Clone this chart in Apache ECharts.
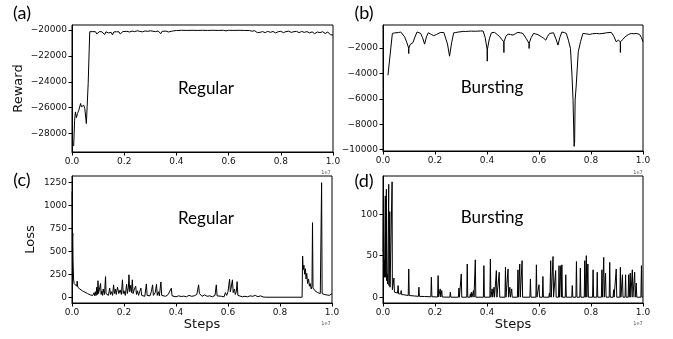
<!DOCTYPE html>
<html><head><meta charset="utf-8">
<script src="https://cdn.jsdelivr.net/npm/echarts@6/dist/echarts.min.js"></script>
<style>html,body{margin:0;padding:0;background:#fff}#c{width:673px;height:339px}</style>
</head><body><div id="c"></div>
<script>
// x values are in units of 1e7 steps
const xTicks = [0, 0.2, 0.4, 0.6, 0.8, 1.0];
const rewardRegularTicks = [-28000, -26000, -24000, -22000, -20000];
const rewardBurstingTicks = [-10000, -8000, -6000, -4000, -2000];
const lossRegularTicks = [0, 250, 500, 750, 1000, 1250];
const lossBurstingTicks = [0, 50, 100];
const panelLabels = ['(a)', '(b)', '(c)', '(d)'];
const panelTitles = ['Regular', 'Bursting', 'Regular', 'Bursting'];

const rewardRegular = [
[0.0064,-28970],[0.010,-26980],[0.013,-26330],[0.017,-26770],[0.021,-26460],[0.026,-26200],[0.029,-26070],
[0.033,-25680],[0.036,-25940],[0.040,-26070],[0.045,-25810],[0.049,-26070],[0.053,-26200],[0.055,-27230],
[0.058,-25940],[0.062,-24130],[0.068,-20130],
[0.07,-20100],[0.075,-20150],[0.08,-20120],[0.085,-20200],[0.09,-20130],[0.095,-20300],[0.10,-20150],
[0.105,-20120],[0.11,-20250],[0.115,-20140],[0.12,-20180],[0.125,-20350],[0.13,-20140],[0.135,-20160],
[0.14,-20220],[0.145,-20120],[0.15,-20180],[0.155,-20380],[0.16,-20150],[0.165,-20200],[0.17,-20130],
[0.175,-20250],[0.18,-20140],[0.185,-20300],[0.19,-20160],[0.195,-20120],[0.2,-20250],[0.21,-20100],
[0.22,-20150],[0.23,-20080],[0.24,-20120],[0.25,-20060],[0.26,-20100],[0.27,-20140],[0.28,-20070],
[0.29,-20100],[0.3,-20060],[0.31,-20090],[0.32,-20120],[0.33,-20070],[0.34,-20280],[0.345,-20100],
[0.35,-20130],[0.36,-20080],[0.37,-20150],[0.38,-20100],[0.39,-20060],[0.395,-20140],[0.4,-20040],
[0.42,-20020],[0.44,-20030],[0.46,-20020],[0.48,-20030],[0.5,-20020],[0.52,-20030],[0.54,-20020],
[0.56,-20030],[0.58,-20020],[0.59,-20060],[0.6,-20020],[0.62,-20030],[0.64,-20020],[0.66,-20030],
[0.68,-20040],[0.69,-20090],[0.7,-20050],[0.705,-20150],[0.71,-20200],[0.715,-20330],[0.72,-20180],
[0.725,-20280],[0.73,-20120],[0.74,-20200],[0.75,-20100],[0.76,-20180],[0.77,-20110],[0.78,-20220],
[0.79,-20130],[0.8,-20100],[0.81,-20200],[0.82,-20120],[0.83,-20090],[0.84,-20180],[0.85,-20130],
[0.86,-20100],[0.87,-20200],[0.88,-20110],[0.89,-20180],[0.9,-20120],[0.91,-20220],[0.92,-20140],
[0.93,-20280],[0.94,-20150],[0.95,-20200],[0.96,-20130],[0.97,-20260],[0.98,-20160],[0.99,-20350],
[0.995,-20200],[1.0,-20400]
];

const rewardBursting = [
[0.019,-4160],[0.036,-870],[0.045,-830],[0.051,-820],[0.06,-800],[0.068,-760],[0.075,-880],[0.083,-1130],
[0.092,-1600],[0.099,-2050],[0.099,-2450],[0.099,-2050],[0.104,-1750],[0.109,-1660],[0.115,-1600],
[0.123,-1150],[0.131,-760],[0.138,-800],[0.145,-870],[0.152,-1200],[0.16,-1710],[0.167,-1150],[0.174,-820],
[0.18,-900],[0.186,-950],[0.19,-900],[0.195,-1050],[0.201,-1080],[0.206,-950],[0.212,-870],[0.22,-800],
[0.227,-740],[0.234,-800],[0.24,-870],[0.248,-1700],[0.256,-2660],[0.264,-1600],[0.272,-820],[0.28,-800],
[0.29,-760],[0.3,-740],[0.308,-710],[0.318,-720],[0.33,-700],[0.34,-690],[0.346,-680],[0.355,-700],
[0.365,-690],[0.375,-680],[0.385,-680],[0.393,-1200],[0.401,-2180],[0.401,-3050],[0.401,-2180],
[0.409,-1300],[0.417,-820],[0.423,-800],[0.429,-790],[0.439,-950],[0.449,-1130],[0.457,-1350],
[0.465,-1530],[0.465,-2370],[0.465,-1530],[0.473,-1100],[0.481,-920],[0.49,-960],[0.5,-1000],[0.51,-880],
[0.519,-790],[0.528,-820],[0.538,-870],[0.55,-1250],[0.562,-1660],[0.562,-2050],[0.562,-1660],
[0.57,-1200],[0.579,-870],[0.588,-920],[0.596,-970],[0.603,-1050],[0.609,-1130],[0.618,-1250],
[0.626,-1400],[0.633,-1100],[0.641,-870],[0.648,-840],[0.656,-820],[0.665,-1300],[0.673,-1790],
[0.68,-1200],[0.688,-760],[0.697,-800],[0.705,-870],[0.713,-1400],[0.721,-2050],[0.727,-4200],
[0.731,-6130],[0.735,-9740],[0.737,-9400],[0.739,-6100],[0.743,-5000],[0.751,-2320],[0.76,-1500],
[0.769,-870],[0.78,-900],[0.795,-950],[0.805,-900],[0.812,-940],[0.821,-870],[0.832,-900],[0.846,-870],
[0.86,-820],[0.878,-790],[0.888,-1100],[0.897,-1530],[0.905,-1400],[0.913,-1530],[0.913,-2370],
[0.913,-1530],[0.923,-1340],[0.93,-1150],[0.936,-1050],[0.945,-950],[0.955,-870],[0.965,-900],
[0.974,-870],[0.98,-920],[0.987,-950],[0.994,-1200],[1.0,-1530]
];

const lossRegular = [
[0.0005,1150],[0.001,900],[0.0015,500],[0.002,650],[0.003,700],[0.004,400],[0.006,200],[0.008,150],
[0.01,170],[0.012,130],[0.015,140],[0.018,120],[0.02,175],[0.022,110],[0.025,100],[0.03,90],[0.035,80],
[0.04,70],[0.045,65],[0.05,55],[0.055,45],[0.06,40],[0.065,30],[0.07,25],[0.075,40],[0.08,20],[0.085,50],
[0.088,15],[0.09,60],[0.093,20],[0.095,110],[0.098,30],[0.1,180],[0.102,40],[0.105,60],[0.108,20],
[0.11,150],[0.112,30],[0.115,70],[0.118,20],[0.12,90],[0.125,30],[0.129,225],[0.131,40],[0.135,60],
[0.14,20],[0.145,100],[0.148,30],[0.152,60],[0.156,20],[0.16,135],[0.163,40],[0.167,90],[0.17,30],
[0.175,110],[0.18,40],[0.185,80],[0.19,30],[0.194,190],[0.197,40],[0.2,70],[0.205,20],[0.21,140],
[0.213,40],[0.217,110],[0.219,245],[0.222,60],[0.226,130],[0.229,50],[0.232,190],[0.235,40],[0.24,90],
[0.245,120],[0.248,30],[0.252,70],[0.256,20],[0.26,60],[0.265,100],[0.268,20],[0.275,40],[0.28,10],
[0.286,145],[0.289,20],[0.295,40],[0.3,15],[0.305,60],[0.31,135],[0.313,20],[0.32,50],[0.325,140],
[0.328,20],[0.332,60],[0.336,15],[0.342,167],[0.345,20],[0.35,40],[0.36,10],[0.37,30],[0.375,10],
[0.382,98],[0.385,15],[0.39,10],[0.4,5],[0.41,15],[0.42,8],[0.43,12],[0.44,5],[0.45,20],[0.46,10],
[0.47,15],[0.48,30],[0.487,135],[0.49,40],[0.495,20],[0.5,10],[0.51,25],[0.52,10],[0.53,15],[0.54,5],
[0.55,20],[0.555,135],[0.558,15],[0.565,8],[0.575,10],[0.585,5],[0.59,50],[0.595,20],[0.6,60],
[0.606,196],[0.609,60],[0.612,100],[0.617,190],[0.62,50],[0.625,90],[0.628,30],[0.632,60],[0.635,170],
[0.638,20],[0.645,8],[0.655,5],[0.665,10],[0.675,5],[0.685,15],[0.69,30],[0.695,10],[0.705,20],
[0.715,5],[0.725,15],[0.735,3],[0.745,0],[0.885,0],[0.887,450],[0.889,300],[0.892,350],[0.895,250],
[0.898,310],[0.9,200],[0.903,260],[0.906,150],[0.91,200],[0.913,120],[0.916,150],[0.92,90],[0.923,120],
[0.925,814],[0.927,100],[0.93,80],[0.935,70],[0.94,60],[0.945,50],[0.95,45],[0.955,40],[0.958,35],
[0.96,1250],[0.962,40],[0.965,35],[0.97,30],[0.975,35],[0.98,25],[0.985,30],[0.99,20],[0.995,15],[1.0,40]
];

const lossBursting = [
[0.0005,55],[0.002,129],[0.003,28],[0.005,45],[0.006,24],[0.009,122],[0.010,24],[0.013,130],[0.014,20],
[0.016,28],[0.018,16],[0.022,136],[0.023,14],[0.026,103],[0.027,12],[0.030,11],[0.033,10],[0.035,139],
[0.036,9],[0.038,8],[0.042,23],[0.044,6],[0.050,5],[0.056,5],[0.058,14],[0.060,4],[0.068,4],[0.070,8],
[0.072,3],[0.080,3],[0.082,5],[0.084,2.5],[0.097,2],[0.099,34],[0.101,2],[0.120,1.5],[0.136,1],[0.138,12],
[0.140,1],[0.160,0.8],[0.184,0.5],[0.186,24],[0.188,0.5],[0.210,0.3],[0.212,26],[0.214,0.3],[0.218,0.3],
[0.220,10],[0.222,0.2],[0.224,0.2],[0.226,8],[0.228,0.2],[0.257,0],[0.259,6],[0.261,0],[0.290,0],
[0.292,11],[0.294,0],[0.299,0],[0.301,28],[0.303,0],[0.322,0],[0.324,40],[0.326,0],[0.334,0],[0.336,4],
[0.338,0],[0.340,6],[0.342,0],[0.346,0],[0.348,8],[0.350,0],[0.353,0],[0.355,45],[0.357,0],[0.386,0],
[0.388,38],[0.390,0],[0.411,0],[0.413,46],[0.415,0],[0.418,0],[0.420,10],[0.422,0],[0.425,0],[0.427,12],
[0.429,0],[0.434,0],[0.436,32],[0.438,0],[0.445,0],[0.447,30],[0.449,0],[0.469,0],[0.471,36],[0.473,0],
[0.479,0],[0.481,34],[0.483,0],[0.486,0],[0.488,12],[0.490,0],[0.493,0],[0.495,10],[0.497,0],[0.517,0],
[0.519,33],[0.521,0],[0.524,0],[0.526,40],[0.528,0],[0.533,0],[0.535,44],[0.537,0],[0.565,0],[0.567,22],
[0.569,0],[0.588,0],[0.590,39],[0.592,0],[0.598,0],[0.600,15],[0.602,0],[0.613,0],[0.615,25],[0.617,0],
[0.638,0],[0.640,5],[0.642,0],[0.643,0],[0.645,44],[0.647,0],[0.652,0],[0.654,49],[0.656,0],[0.662,0],
[0.664,32],[0.666,0],[0.675,0],[0.677,38],[0.679,0],[0.682,0],[0.684,38],[0.686,0],[0.688,39],[0.690,0],
[0.701,0],[0.703,27],[0.705,0],[0.726,0],[0.728,14],[0.730,0],[0.742,0],[0.744,43],[0.746,0],[0.757,0],
[0.759,35],[0.761,0],[0.774,0],[0.776,44],[0.778,0],[0.780,0],[0.782,50],[0.784,0],[0.786,0],[0.788,40],
[0.790,0],[0.806,0],[0.808,33],[0.810,0],[0.822,0],[0.824,30],[0.826,0],[0.840,0],[0.842,33],[0.844,0],
[0.847,0],[0.849,48],[0.851,0],[0.854,0],[0.856,29],[0.858,0],[0.870,0],[0.872,42],[0.874,0],[0.885,0],
[0.887,9],[0.889,0],[0.895,0],[0.897,34],[0.899,0],[0.911,0],[0.913,36],[0.915,0],[0.919,0],[0.921,27],
[0.923,0],[0.931,0],[0.933,27],[0.935,0],[0.943,0],[0.945,27],[0.947,0],[0.949,0],[0.951,29],[0.953,0],
[0.957,0],[0.959,33],[0.961,0],[0.966,0],[0.968,30],[0.970,0],[0.972,0],[0.974,17],[0.976,0],[0.992,0],
[0.994,38],[0.996,0],[1.0,0]
];

const TICK_FONT = 'DejaVu Sans';
const fmtNum = v => (v < 0 ? '\u2212' + Math.abs(v) : String(v));

function xAxis(gi, name) {
  return {
    type: 'value', gridIndex: gi, min: 0, max: 1,
    axisLine: { show: true, onZero: false, lineStyle: { color: '#000', width: 1 } },
    axisTick: { show: true, inside: false, length: 3.5, customValues: xTicks, lineStyle: { color: '#000', width: 1 } },
    axisLabel: { customValues: xTicks, formatter: v => v.toFixed(1), fontFamily: TICK_FONT, fontSize: 9, color: '#111', margin: 5 },
    splitLine: { show: false },
    name: name || '', nameLocation: 'middle', nameGap: 15,
    nameTextStyle: { fontFamily: TICK_FONT, fontSize: 13, color: '#111' }
  };
}
function yAxis(gi, min, max, ticks, name, gap) {
  return {
    type: 'value', gridIndex: gi, min, max,
    axisLine: { show: true, onZero: false, lineStyle: { color: '#000', width: 1 } },
    axisTick: { show: true, inside: false, length: 3.5, customValues: ticks, lineStyle: { color: '#000', width: 1 } },
    axisLabel: { customValues: ticks, formatter: fmtNum, fontFamily: TICK_FONT, fontSize: 9, color: '#111', margin: 5 },
    splitLine: { show: false },
    name: name || '', nameLocation: 'middle', nameGap: gap || 40,
    nameTextStyle: { fontFamily: TICK_FONT, fontSize: 13, color: '#111' }
  };
}
function lineSeries(i, data) {
  return { type: 'line', xAxisIndex: i, yAxisIndex: i, data, showSymbol: false, symbol: 'none',
    lineStyle: { color: '#000', width: 1 }, animation: false, silent: true };
}
function txt(x, y, text, font, fill) {
  return { type: 'text', x, y, silent: true,
    style: { text, font, fill: fill || '#000', align: 'center', verticalAlign: 'middle' } };
}

const chart = echarts.init(document.getElementById('c'), null, { renderer: 'canvas' });
chart.setOption({
  animation: false,
  backgroundColor: '#fff',
  grid: [
    { left: 72, top: 25, width: 261, height: 127, show: true, borderColor: '#000', borderWidth: 1, backgroundColor: 'transparent' },
    { left: 383, top: 25, width: 260, height: 126, show: true, borderColor: '#000', borderWidth: 1, backgroundColor: 'transparent' },
    { left: 72, top: 176, width: 260, height: 127, show: true, borderColor: '#000', borderWidth: 1, backgroundColor: 'transparent' },
    { left: 383, top: 176, width: 260, height: 127, show: true, borderColor: '#000', borderWidth: 1, backgroundColor: 'transparent' }
  ],
  xAxis: [xAxis(0), xAxis(1), xAxis(2, 'Steps'), xAxis(3, 'Steps')],
  yAxis: [
    yAxis(0, -29430, -19610, rewardRegularTicks, 'Reward', 47),
    yAxis(1, -10100, -210, rewardBurstingTicks),
    yAxis(2, -63, 1323, lossRegularTicks, 'Loss', 35),
    yAxis(3, -7, 146, lossBurstingTicks)
  ],
  series: [lineSeries(0, rewardRegular), lineSeries(1, rewardBursting), lineSeries(2, lossRegular), lineSeries(3, lossBursting)],
  graphic: [
    txt(22, 13, panelLabels[0], '18px Lato'),
    txt(364, 13, panelLabels[1], '18px Lato'),
    txt(22, 180, panelLabels[2], '18px Lato'),
    txt(364, 181, panelLabels[3], '18px Lato'),
    txt(206, 89, panelTitles[0], '17px Lato'),
    txt(492, 88, panelTitles[1], '17px Lato'),
    txt(206, 219, panelTitles[2], '17px Lato'),
    txt(492, 218, panelTitles[3], '17px Lato'),
    txt(326, 173, '1e7', '5px DejaVu Sans', '#555'),
    txt(638, 173, '1e7', '5px DejaVu Sans', '#555'),
    txt(326, 324, '1e7', '5px DejaVu Sans', '#555'),
    txt(638, 324, '1e7', '5px DejaVu Sans', '#555')
  ]
});
</script>
</body></html>
